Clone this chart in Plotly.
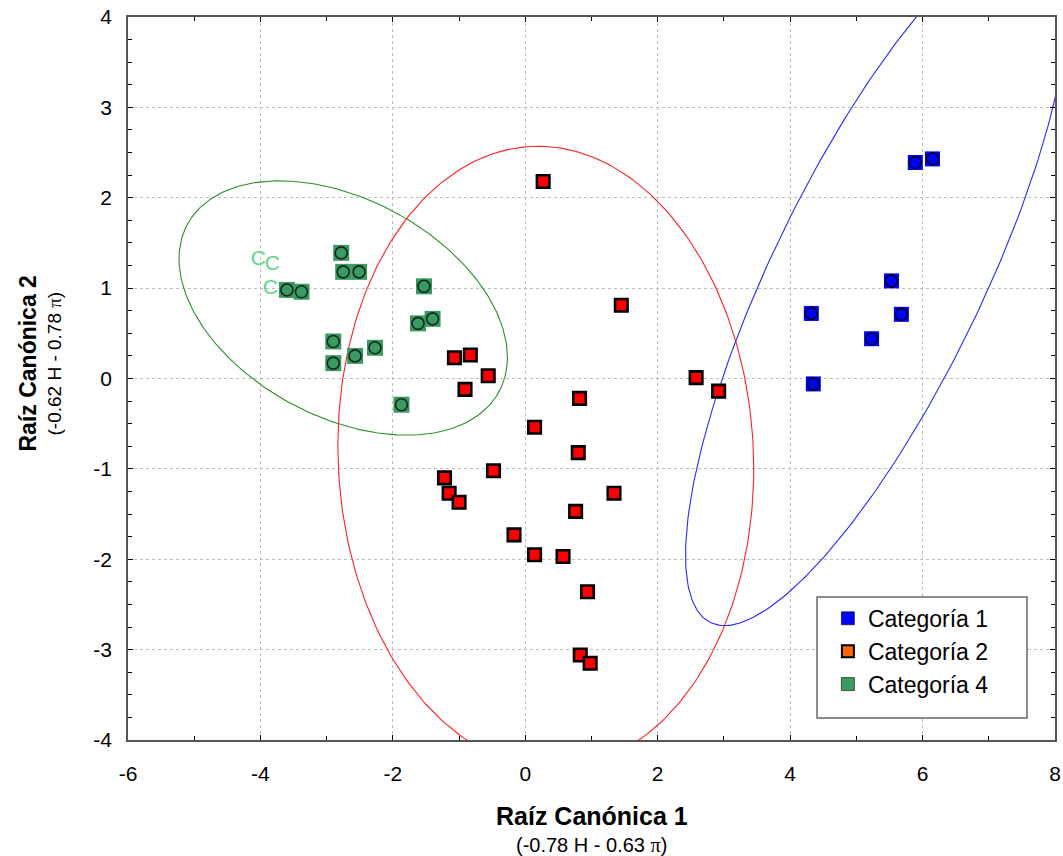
import numpy as np
import plotly.graph_objects as go

# ---------------- data ----------------
cat1_x = [5.89, 6.15, 5.53, 4.32, 5.68, 5.23, 4.35]
cat1_y = [2.39, 2.43, 1.08, 0.72, 0.71, 0.44, -0.06]

cat2_x = [0.27, 1.45, -1.07, -0.83, -0.91, -0.56, 0.82, 0.14, 2.58, 2.92,
          -0.48, 0.80, -1.22, -1.15, -1.00, 1.34, 0.76, -0.17, 0.14, 0.57,
          0.94, 0.83, 0.98]
cat2_y = [2.18, 0.81, 0.23, 0.26, -0.12, 0.03, -0.22, -0.54, 0.01, -0.14,
          -1.02, -0.82, -1.10, -1.27, -1.37, -1.27, -1.47, -1.73, -1.95, -1.97,
          -2.36, -3.06, -3.15]

cat4_x = [-2.78, -2.75, -2.51, -3.60, -3.38, -1.53, -1.62, -1.40, -2.90,
          -2.90, -2.57, -2.27, -1.87]
cat4_y = [1.39, 1.18, 1.18, 0.98, 0.96, 1.02, 0.61, 0.66, 0.41,
          0.17, 0.25, 0.34, -0.29]

# category-4 cases drawn as letters
cat4c_x = [-4.03, -3.82, -3.85]
cat4c_y = [1.31, 1.26, 0.99]
cat4c_text = ["C", "C", "C"]

# confidence ellipses: centre and covariance (Sxx, Sxy, Syy)
ell1_center = [5.31, 1.10]
ell1_cov = [8.35, 8.82, 14.70]
ell2_center = [0.31, -0.87]
ell2_cov = [9.86, -0.40, 11.83]
ell4_center = [-2.75, 0.78]
ell4_cov = [6.15, -1.35, 1.98]

legend_names = ["Categoría 1", "Categoría 2", "Categoría 4"]

x_tickvals = [-6, -4, -2, 0, 2, 4, 6, 8]
x_ticktext = ["-6", "-4", "-2", "0", "2", "4", "6", "8"]
y_tickvals = [-4, -3, -2, -1, 0, 1, 2, 3, 4]
y_ticktext = ["-4", "-3", "-2", "-1", "0", "1", "2", "3", "4"]

FONT = "Liberation Sans, Arial, sans-serif"


def ellipse(center, cov, n=300):
    sxx, sxy, syy = cov
    t = np.linspace(0, 2 * np.pi, n)
    l11 = np.sqrt(sxx)
    l21 = sxy / l11
    l22 = np.sqrt(syy - l21 ** 2)
    x = center[0] + l11 * np.cos(t)
    y = center[1] + l21 * np.cos(t) + l22 * np.sin(t)
    return x, y


fig = go.Figure()

# ellipses
for c, cv, col in [(ell4_center, ell4_cov, "#2a8f2a"),
                   (ell2_center, ell2_cov, "#ff2020"),
                   (ell1_center, ell1_cov, "#2a2aff")]:
    ex, ey = ellipse(c, cv)
    fig.add_trace(go.Scatter(x=ex, y=ey, mode="lines",
                             line=dict(color=col, width=1.1),
                             showlegend=False, hoverinfo="skip"))

# category 4 markers (green square + dark circle)
fig.add_trace(go.Scatter(x=cat4_x, y=cat4_y, mode="markers",
                         marker=dict(symbol="square", size=16, color="#3a9a64",
                                     line=dict(width=0)),
                         showlegend=False))
fig.add_trace(go.Scatter(x=cat4_x, y=cat4_y, mode="markers",
                         marker=dict(symbol="circle-open", size=12,
                                     color="rgba(10,20,10,0.85)",
                                     line=dict(width=1.6)),
                         showlegend=False, hoverinfo="skip"))
fig.add_trace(go.Scatter(x=cat4c_x, y=cat4c_y, mode="text", text=cat4c_text,
                         textfont=dict(family=FONT, size=21, color="#5fd68b"),
                         showlegend=False))

# category 2 markers (red squares, black border)
fig.add_trace(go.Scatter(x=cat2_x, y=cat2_y, mode="markers",
                         marker=dict(symbol="square", size=12.5, color="#ff0000",
                                     line=dict(color="black", width=2.6)),
                         showlegend=False))

# category 1 markers (blue square + dark circle)
fig.add_trace(go.Scatter(x=cat1_x, y=cat1_y, mode="markers",
                         marker=dict(symbol="square", size=15, color="#0000ff",
                                     line=dict(width=0)),
                         showlegend=False))
fig.add_trace(go.Scatter(x=cat1_x, y=cat1_y, mode="markers",
                         marker=dict(symbol="circle-open", size=12,
                                     color="rgba(0,0,0,0.85)",
                                     line=dict(width=1.6)),
                         showlegend=False, hoverinfo="skip"))

# legend entries
fig.add_trace(go.Scatter(x=[None], y=[None], mode="markers", name=legend_names[0],
                         marker=dict(symbol="square", size=13, color="#0000ff",
                                     line=dict(color="rgba(0,0,0,0.6)", width=1))))
fig.add_trace(go.Scatter(x=[None], y=[None], mode="markers", name=legend_names[1],
                         marker=dict(symbol="square", size=12, color="#ff6600",
                                     line=dict(color="black", width=2))))
fig.add_trace(go.Scatter(x=[None], y=[None], mode="markers", name=legend_names[2],
                         marker=dict(symbol="square", size=13, color="#3a9a64",
                                     line=dict(color="rgba(0,0,0,0.6)", width=1))))

axis_common = dict(
    showgrid=True, gridcolor="#bdbdbd", griddash="3px,3px", gridwidth=1,
    zeroline=False, showline=True, linecolor="#555555", linewidth=1.5,
    mirror="ticks", ticks="inside", ticklen=5, tickcolor="black",
    tickfont=dict(family=FONT, size=21, color="black"), automargin=False,
)

fig.update_xaxes(range=[-6, 8], tickmode="array", tickvals=x_tickvals,
                 ticktext=x_ticktext, ticklabelstandoff=14,
                 minor=dict(dtick=1, tick0=0, ticks="inside", ticklen=4,
                            tickcolor="black", showgrid=False),
                 **axis_common)
fig.update_yaxes(range=[-4, 4], tickmode="array", tickvals=y_tickvals,
                 ticktext=y_ticktext, ticklabelstandoff=10,
                 minor=dict(dtick=0.25, tick0=0, ticks="inside", ticklen=4,
                            tickcolor="black", showgrid=False),
                 **axis_common)

PI = "<span style='font-family:Liberation Serif'>π</span>"
annotations = [
    dict(text="<b>Raíz Canónica 1</b>", x=0.5, y=0, xref="paper", yref="paper",
         yshift=-76, xanchor="center", yanchor="middle", showarrow=False,
         font=dict(family=FONT, size=25, color="black")),
    dict(text="(-0.78 H - 0.63 " + PI + ")", x=0.5, y=0, xref="paper", yref="paper",
         yshift=-105, xanchor="center", yanchor="middle", showarrow=False,
         font=dict(family=FONT, size=20, color="black")),
    dict(text="<b>Raíz Canónica 2</b>", x=0, y=0.5, xref="paper", yref="paper",
         xshift=-101, yshift=15, xanchor="center", yanchor="middle",
         textangle=-90, showarrow=False,
         font=dict(family=FONT, size=23, color="black")),
    dict(text="(-0.62 H - 0.78 " + PI + ")", x=0, y=0.5, xref="paper", yref="paper",
         xshift=-74, yshift=15, xanchor="center", yanchor="middle",
         textangle=-90, showarrow=False,
         font=dict(family=FONT, size=19, color="black")),
]

fig.update_layout(
    width=1063, height=856, autosize=False,
    margin=dict(l=128, r=8, t=17, b=116, autoexpand=False),
    paper_bgcolor="white", plot_bgcolor="white",
    font=dict(family=FONT, color="black"),
    annotations=annotations,
    shapes=[dict(type="rect", xref="paper", yref="paper",
                 x0=0.7433, x1=0.9698, y0=0.0304, y1=0.1978,
                 line=dict(color="#666666", width=1.5), fillcolor="white",
                 layer="above")],
    showlegend=True,
    legend=dict(x=0.755, y=0.198, xanchor="left", yanchor="top",
                bgcolor="rgba(0,0,0,0)", borderwidth=0,
                font=dict(family=FONT, size=23, color="black"),
                itemsizing="trace", tracegroupgap=0),
)

fig.write_html(
    "out.html",
    config={"displayModeBar": False, "responsive": False},
    post_script="document.body.style.margin='0px';"
                "document.body.style.overflow='hidden';",
)
